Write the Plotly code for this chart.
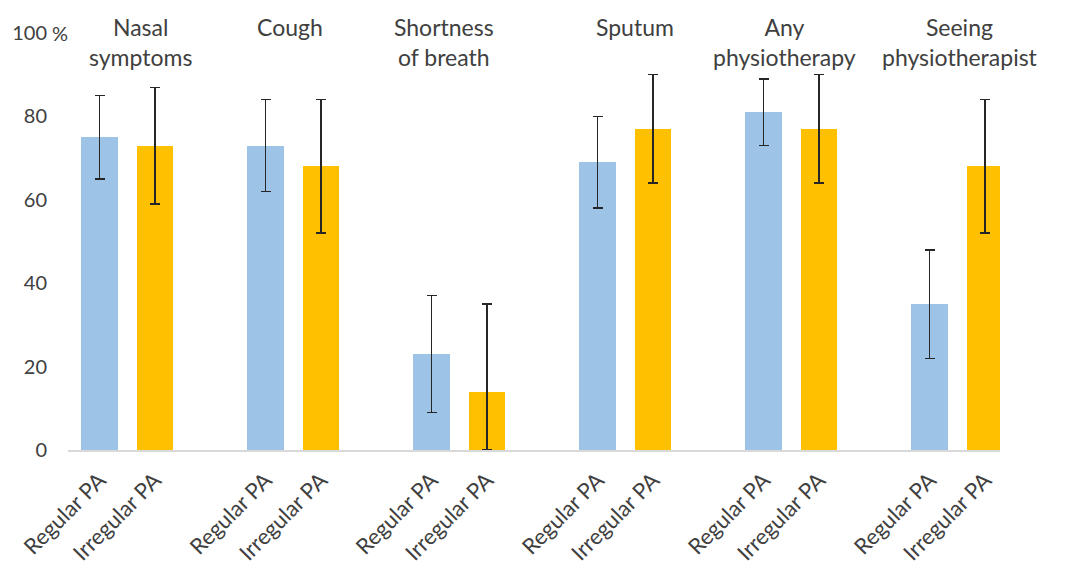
import plotly.graph_objects as go

groups = ["Nasal<br>symptoms", "Cough", "Shortness<br>of breath", "Sputum",
          "Any<br>physiotherapy", "Seeing<br>physiotherapist"]
series_names = ["Regular PA", "Irregular PA"]
regular_vals = [75, 73, 23, 69, 81, 35]
regular_hi = [85, 84, 37, 80, 89, 48]
regular_lo = [65, 62, 9, 58, 73, 22]
irregular_vals = [73, 68, 14, 77, 77, 68]
irregular_hi = [87, 84, 35, 90, 90, 84]
irregular_lo = [59, 52, 0, 64, 64, 52]
y_ticks = [0, 20, 40, 60, 80, 100]
y_ticktext = ["0", "20", "40", "60", "80", "100"]

colors = ["#9DC3E6", "#FFC000"]
font_family = "Lato, 'Open Sans', sans-serif"
text_color = "#404040"

# x positions: each group gets 3 slots (two bars + a gap)
n = len(groups)
x_reg = [3 * i for i in range(n)]
x_irr = [3 * i + 1 for i in range(n)]

fig = go.Figure()
for xs, vals, hi, lo, name, col in [
    (x_reg, regular_vals, regular_hi, regular_lo, series_names[0], colors[0]),
    (x_irr, irregular_vals, irregular_hi, irregular_lo, series_names[1], colors[1]),
]:
    fig.add_trace(go.Bar(
        x=xs, y=vals, name=name, marker=dict(color=col, line=dict(width=0)),
        width=0.66,
        error_y=dict(type="data", symmetric=False,
                     array=[h - v for h, v in zip(hi, vals)],
                     arrayminus=[v - l for v, l in zip(vals, lo)],
                     color="#262626", thickness=1.4, width=5),
        showlegend=False,
    ))

tickvals = sorted(x_reg + x_irr)
ticktext = [series_names[0] if t % 3 == 0 else series_names[1] for t in tickvals]

title_shift = [0.24, -0.06, -0.28, 0.17, -0.13, 0.05]
for i, g in enumerate(groups):
    fig.add_annotation(x=3 * i + 0.5 + title_shift[i], y=1.053, xref="x", yref="paper",
                       text=g, showarrow=False, yanchor="top", xanchor="center",
                       font=dict(size=23, color=text_color, family=font_family))

fig.add_annotation(x=-0.57, y=100, xref="x", yref="y", text="%", showarrow=False,
                   xanchor="right", yanchor="middle", xshift=2,
                   font=dict(size=20, color=text_color, family=font_family))

# the page body adds an 8px offset; margins compensate so the plot area lands in place
fig.update_layout(
    width=1069, height=568,
    margin=dict(l=60, r=77, t=25, b=126),
    paper_bgcolor="white", plot_bgcolor="white",
    bargap=0,
    font=dict(family=font_family, color=text_color, size=19),
    xaxis=dict(range=[-0.57, 16.27], tickmode="array", tickvals=tickvals,
               ticktext=ticktext, tickangle=-45, showgrid=False, zeroline=False,
               showline=True, linecolor="#D9D9D9", linewidth=1.5, ticks="",
               automargin=False, ticklabelstandoff=7,
               tickfont=dict(size=22, color=text_color, family=font_family)),
    yaxis=dict(range=[0, 100], tickmode="array", tickvals=y_ticks, ticktext=y_ticktext,
               showgrid=False, zeroline=False, showline=False, ticks="",
               ticklabelstandoff=20, automargin=False,
               tickfont=dict(size=20, color=text_color, family=font_family)),
)

fig.write_html("out.html")
